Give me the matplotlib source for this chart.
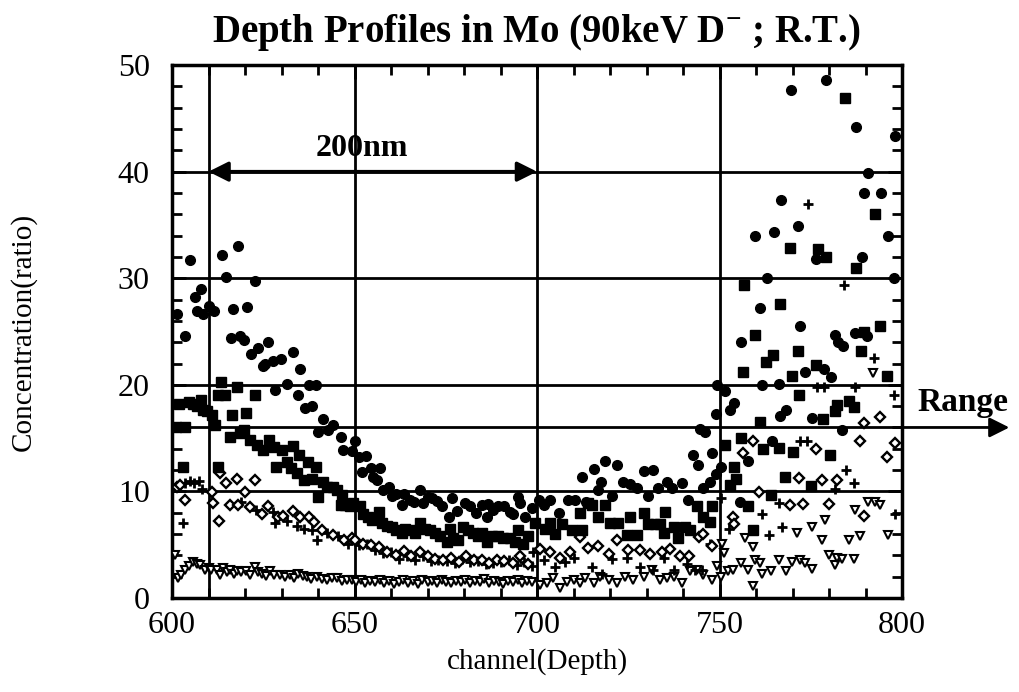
import matplotlib.pyplot as plt
from matplotlib.ticker import MultipleLocator

plt.rcParams['font.family'] = ['Liberation Serif', 'DejaVu Serif']
plt.rcParams['mathtext.fontset'] = 'custom'
plt.rcParams['mathtext.rm'] = 'Liberation Serif'
plt.rcParams['mathtext.bf'] = 'Liberation Serif:bold'

# filled circles (highest profile)
circ_x = [601.3, 603.6, 604.9, 606.3, 606.8, 607.9, 608.6, 610.2, 611.6, 613.6, 614.8, 616.1, 616.6, 618.0,
          618.6, 619.8, 620.5, 621.6, 622.7, 623.5, 624.8, 625.5, 626.4, 627.8, 628.2, 629.9, 631.4, 633.2,
          634.4, 635.1, 636.3, 637.4, 638.3, 639.4, 639.9, 641.5, 642.8, 644.2, 646.3, 646.9, 649.2,
          650.1, 651.3, 652.0, 653.2, 654.4, 655.0, 656.1, 657.0, 657.9, 659.5, 660.2, 661.5, 663.1, 663.6,
          665.2, 666.4, 668.0, 668.7, 670.2, 671.1, 672.7, 673.9, 676.0, 676.6, 678.0, 680.3, 681.6, 683.3,
          684.8, 686.2, 686.5, 688.0, 689.4, 690.9, 692.6, 693.3, 694.9, 695.3, 696.7, 698.5,
          700.6, 701.8, 703.6, 706.0, 708.6, 710.4, 712.3, 713.5, 715.5, 716.8, 717.5, 718.6, 720.5, 721.8,
          723.6, 725.5, 727.5, 729.4, 730.5, 731.8, 733.2, 735.5, 737.1, 739.6, 741.5, 742.8, 744.2, 744.7,
          745.6, 746.0, 747.4, 747.9, 748.9, 749.2,
          751.6, 754.1, 752.9, 748.9, 750.5, 757.9, 755.7, 756.0, 759.6, 761.2, 761.6, 762.9, 764.4, 764.8,
          766.2, 766.5, 766.8, 768.2, 769.6, 771.4, 772.0, 773.3, 775.3, 776.5, 778.5, 779.2, 780.5, 781.7,
          782.5, 783.6, 783.7, 787.0, 787.5, 789.0, 789.5, 790.4, 790.7, 794.2, 796.2, 797.7, 798.1]
circ_y = [26.6, 24.6, 31.7, 28.2, 26.9, 29.0, 26.6, 27.4, 26.9, 32.2, 30.1, 24.4, 27.1, 33.0,
          24.6, 24.2, 27.3, 22.9, 29.7, 23.5, 21.8, 22.0, 24.0, 22.2, 19.5, 22.4, 20.1, 23.1,
          19.0, 21.5, 17.8, 20.0, 18.0, 20.0, 15.6, 16.8, 15.8, 16.2, 15.1, 13.9, 13.8,
          14.7, 13.2, 11.8, 13.3, 12.2, 11.4, 11.1, 12.2, 10.1, 10.4, 9.6, 9.8, 8.7, 9.8,
          9.2, 9.0, 10.1, 8.9, 9.5, 9.4, 9.1, 8.6, 7.6, 9.4, 8.2, 8.9, 8.6, 8.0,
          8.7, 7.6, 8.8, 8.3, 8.6, 8.6, 8.1, 7.9, 9.5, 8.9, 7.6, 8.4,
          9.2, 8.7, 9.2, 8.0, 9.2, 9.2, 11.4, 9.0, 12.1, 10.1, 10.9, 12.9, 9.6, 12.5,
          10.9, 10.7, 10.3, 11.9, 9.6, 12.0, 10.3, 10.9, 10.3, 10.8, 9.2, 13.4, 12.5, 15.9,
          10.3, 15.6, 10.9, 13.6, 17.3, 20.0,
          19.4, 18.3, 17.6, 11.6, 12.3, 12.9, 9.0, 24.0, 34.0, 27.2, 20.0, 30.0, 14.7, 34.3,
          20.1, 17.1, 37.3, 17.6, 47.7, 34.9, 25.5, 21.2, 16.9, 31.8, 21.5, 48.6, 20.7, 24.7,
          24.0, 15.8, 23.6, 24.9, 44.2, 32.0, 38.0, 24.6, 39.9, 38.0, 34.0, 30.0, 43.3]

# filled squares
sq_x = [601.0, 601.9, 603.1, 603.6, 604.7, 605.8, 606.8, 607.9, 608.6, 609.5, 611.0, 611.8, 612.7, 612.7,
        613.3, 614.5, 615.9, 616.4, 617.7, 618.6, 619.7, 620.4, 621.4, 622.7, 623.4, 625.0, 626.5, 627.9,
        628.5, 630.0, 631.4, 632.5, 633.2, 634.2, 634.9, 636.2, 637.3, 638.3, 639.5, 639.9, 641.5, 642.4,
        644.2, 645.1, 646.3, 646.5, 647.4, 648.8,
        649.7, 651.5, 652.4, 653.8, 654.7, 656.8, 657.4, 658.8, 660.2, 661.5, 662.9, 663.8, 665.2, 666.6,
        667.9, 669.3, 670.7, 672.1, 673.4, 675.3, 676.2, 677.1, 678.4, 679.8, 681.2, 682.5, 683.9, 684.8,
        686.2, 687.6, 689.4, 690.7, 692.6, 694.0, 694.9, 696.2, 697.6, 699.5,
        702.2, 703.6, 704.9, 706.8, 709.5, 711.8, 712.3, 714.1, 715.0, 716.8, 718.6, 720.1, 722.3, 724.6,
        725.5, 727.4, 729.2, 730.5, 732.4, 733.8, 734.7, 735.1, 737.4, 738.7, 740.6, 742.0, 743.8, 745.6,
        747.4, 747.9,
        751.6, 752.9, 754.1, 754.5, 756.0, 756.4, 756.6, 757.8, 759.1, 759.6, 761.2, 761.8, 762.8, 764.2,
        764.6, 766.2, 766.7, 768.0, 769.4, 769.9, 770.0, 771.4, 771.8, 775.1, 776.4, 777.0, 778.4, 779.2,
        780.4, 781.7, 782.2, 784.3, 785.4, 786.8, 787.4, 788.8, 789.5, 792.7, 794.1, 795.9]
sq_y = [16.0, 18.2, 12.3, 16.0, 18.4, 18.2, 18.0, 18.6, 17.6, 17.5, 17.2, 16.2, 19.0, 12.3,
        20.3, 19.0, 15.1, 17.2, 19.8, 15.5, 15.8, 17.4, 14.8, 19.0, 14.4, 13.9, 14.8, 14.2,
        12.3, 13.9, 12.8, 12.2, 14.3, 11.7, 13.4, 11.1, 12.8, 11.2, 12.3, 9.5, 10.9, 10.4,
        10.4, 10.1, 8.7, 9.7, 8.7, 8.6,
        8.9, 8.6, 7.9, 7.6, 7.3, 8.1, 7.0, 6.8, 6.7, 6.4, 6.1, 6.5, 6.4, 6.1,
        7.0, 6.5, 6.4, 6.1, 5.8, 5.3, 6.5, 5.6, 5.4, 6.7, 6.4, 6.1, 5.8, 6.1,
        5.3, 5.8, 5.8, 5.6, 5.6, 5.3, 6.4, 5.1, 5.8, 7.0,
        6.5, 7.0, 6.0, 6.9, 6.4, 8.0, 6.4, 8.9, 8.7, 7.6, 8.7, 7.0, 7.0, 5.9,
        7.6, 5.9, 8.0, 6.9, 6.9, 6.9, 6.1, 8.1, 6.7, 5.6, 6.7, 6.4, 8.6, 7.6,
        7.1, 8.6,
        14.4, 10.6, 12.3, 11.2, 15.0, 21.2, 29.4, 8.6, 6.4, 24.7, 16.5, 14.0, 22.1, 9.7,
        22.8, 14.1, 27.6, 11.4, 32.8, 20.8, 13.7, 23.2, 19.0, 10.5, 21.9, 32.7, 16.8, 32.0,
        13.4, 17.5, 18.1, 46.9, 18.5, 17.9, 31.0, 23.2, 25.0, 36.0, 25.5, 20.8]

# open diamonds
dia_x = [601.3, 602.2, 603.6, 611.0, 611.3, 613.0, 613.2, 614.8, 615.9, 617.7, 618.2, 620.0, 621.4, 622.7,
         624.6, 626.4, 629.1, 630.5, 633.1, 635.1, 637.4, 638.9, 641.0, 644.2, 647.0, 649.2,
         650.1, 652.4, 654.4, 656.8, 659.0, 661.5, 663.5, 665.5, 667.9, 670.0, 672.0, 674.2, 676.3, 678.5,
         680.5, 682.6, 684.8, 686.9, 689.0, 691.0, 693.3, 695.3, 697.5,
         700.8, 703.6, 706.3, 709.1, 711.8, 714.1, 716.8, 719.6, 721.8, 725.0, 728.3, 731.0, 734.2, 736.5,
         739.3, 741.6, 744.3, 745.6, 747.9,
         753.8, 754.1, 756.3, 759.3, 760.7, 769.4, 771.7, 773.0, 776.4, 778.1, 780.1, 782.2, 788.5, 789.5,
         789.5, 794.1, 795.9, 798.0]
dia_y = [10.4, 10.6, 9.2, 9.9, 8.9, 7.2, 11.7, 10.8, 8.7, 11.2, 8.7, 9.9, 8.5, 11.1,
         7.9, 8.6, 7.6, 7.7, 8.2, 7.6, 7.6, 7.1, 6.4, 5.9, 5.4, 5.6,
         5.4, 5.1, 5.0, 4.8, 4.3, 4.0, 4.4, 3.9, 4.3, 3.9, 3.7, 3.6, 3.8, 3.4,
         3.9, 3.6, 3.6, 3.3, 3.6, 3.5, 3.3, 3.9, 3.2,
         4.6, 4.3, 3.8, 4.3, 5.7, 4.7, 4.9, 4.1, 5.4, 4.5, 4.5, 4.1, 4.3, 4.6,
         3.9, 3.9, 5.7, 6.0, 4.9,
         7.6, 6.9, 13.6, 14.7, 9.9, 8.7, 11.3, 8.8, 14.0, 11.1, 8.8, 11.1, 14.7, 7.7,
         16.4, 17.0, 13.2, 14.5]

# crosses
plus_x = [602.9, 603.5, 605.0, 606.0, 607.5, 608.3, 618.9, 623.0, 627.8, 628.2, 631.6, 634.2, 636.2, 638.3,
          639.6, 642.4, 645.6, 648.3,
          651.3, 653.5, 655.7, 657.8, 660.0, 662.3, 664.5, 666.6, 668.8, 671.0, 673.0, 675.3, 677.4, 679.5,
          681.7, 683.8, 685.9, 688.0, 690.2, 692.3, 694.5, 696.5, 698.5,
          699.0, 701.8, 705.0, 707.7, 710.0, 715.0, 717.8, 720.6, 724.6, 728.3, 731.9, 734.7, 737.4, 741.1,
          743.4, 745.2, 747.5,
          750.5, 752.5, 761.6, 763.6, 766.2, 767.1, 772.1, 773.9, 774.2, 776.7, 778.5, 781.7, 784.0, 784.7,
          786.8, 787.0, 792.4, 797.7, 798.0]
plus_y = [7.0, 10.8, 11.0, 10.8, 11.0, 10.2, 9.0, 8.3, 8.1, 7.0, 7.2, 6.8, 6.5, 6.4,
          5.4, 6.1, 5.8, 5.1,
          5.0, 5.1, 4.5, 4.2, 4.3, 3.7, 3.9, 3.6, 3.9, 3.5, 3.6, 3.5, 3.3, 3.7,
          3.4, 3.5, 3.2, 3.3, 3.4, 3.6, 3.1, 3.4, 3.0,
          4.3, 3.6, 2.9, 3.4, 3.8, 2.9, 2.3, 3.7, 3.8, 2.9, 2.6, 3.8, 2.6, 3.2,
          2.6, 2.6, 5.1,
          9.4, 6.5, 7.9, 5.9, 8.9, 6.7, 14.7, 14.7, 37.0, 19.8, 19.8, 10.2, 29.4, 12.0,
          10.8, 19.8, 22.5, 19.0, 7.9]

# open triangles (lowest profile)
tri_x = [600.8, 601.7, 602.5, 603.6, 604.7, 605.8, 606.8, 607.7, 609.0, 610.0, 610.8, 612.2, 613.2, 614.0,
         615.0, 615.9, 617.0, 617.7, 619.0, 620.4, 621.5, 622.7, 623.6, 624.6, 625.7, 626.8, 628.0, 629.6,
         631.0, 632.3, 633.5, 634.6, 636.0, 636.9, 638.2, 639.6, 641.0, 642.4, 643.8, 645.1, 646.5, 647.9,
         649.2,
         650.5, 651.8, 653.0, 654.3, 655.6, 657.0, 658.2, 659.5, 660.8, 662.1, 663.4, 664.7, 666.0, 667.3,
         668.6, 670.0, 671.3, 672.6, 673.9, 675.2, 676.5, 677.8, 679.1, 680.4, 681.7, 683.0, 684.3, 685.6,
         686.9, 688.2, 689.5, 690.8, 692.1, 693.4, 694.7, 696.0, 697.3, 698.6,
         700.8, 702.7, 704.5, 706.3, 708.2, 710.0, 711.8, 713.2, 715.5, 717.3, 719.6, 721.9, 724.1, 726.4,
         729.2, 731.5, 733.8, 735.6, 737.4, 739.8, 742.0, 743.8, 745.6, 747.9, 749.3,
         750.5, 750.7, 751.2, 752.3, 753.6, 756.0, 757.1, 757.8, 759.1, 759.3, 759.8, 761.2, 761.6, 764.2,
         766.2, 768.2, 769.9, 771.2, 772.1, 773.3, 775.3, 775.3, 778.1, 779.0, 780.1, 781.7, 782.2, 783.6,
         785.4, 786.8, 787.2, 788.6, 790.8, 792.0, 792.7, 794.1, 796.2]
tri_y = [4.0, 1.85, 2.2, 2.6, 3.0, 3.4, 3.2, 3.1, 2.6, 2.8, 2.6, 2.6, 2.2, 2.8,
         2.4, 2.6, 2.3, 2.5, 2.4, 2.5, 2.2, 2.9, 2.4, 2.3, 2.1, 2.5, 2.2, 2.2,
         2.0, 2.2, 1.9, 2.3, 2.1, 2.0, 1.8, 2.0, 1.8, 1.7, 1.9, 1.85, 1.6, 1.7,
         1.7,
         1.5, 1.7, 1.4, 1.6, 1.5, 1.7, 1.4, 1.6, 1.3, 1.5, 1.7, 1.4, 1.6, 1.3,
         1.7, 1.5, 1.6, 1.4, 1.7, 1.5, 1.4, 1.6, 1.5, 1.7, 1.4, 1.6, 1.5, 1.8,
         1.4, 1.6, 1.5, 1.3, 1.6, 1.5, 1.7, 1.4, 1.6, 1.5,
         1.2, 1.4, 1.9, 0.9, 1.5, 1.7, 1.4, 1.9, 1.4, 2.0, 1.7, 1.4, 2.0, 1.7,
         2.0, 2.6, 1.7, 1.9, 2.0, 1.4, 2.5, 2.6, 2.2, 1.7, 3.0,
         2.0, 5.1, 4.2, 2.5, 2.6, 3.3, 5.6, 2.6, 1.1, 4.8, 3.6, 3.3, 2.3, 2.5,
         3.6, 2.5, 3.4, 6.1, 3.6, 3.3, 6.7, 2.7, 5.4, 7.3, 4.0, 3.1, 3.8, 3.7,
         5.4, 3.7, 8.3, 5.8, 9.0, 21.1, 9.0, 8.7, 5.9]

grid_x = [610, 650, 700, 750]
grid_y = [10, 16, 20, 30, 40]

fig = plt.figure(figsize=(10.19, 6.92), dpi=100)
ax = fig.add_axes([0.1688, 0.1358, 0.7164, 0.7702])

for gx in grid_x:
    ax.axvline(gx, color='black', lw=2, zorder=1)
for gy in grid_y:
    ax.axhline(gy, color='black', lw=2, zorder=1)

ax.plot(tri_x, tri_y, ls='none', marker='v', ms=5.5, mfc='white', mec='black', mew=1.5, zorder=3)
ax.plot(plus_x, plus_y, ls='none', marker='+', ms=6.5, mec='black', mew=2, zorder=3)
ax.plot(dia_x, dia_y, ls='none', marker='D', ms=5, mfc='white', mec='black', mew=1.7, zorder=3)
ax.plot(sq_x, sq_y, ls='none', marker='s', ms=6.5, color='black', zorder=3)
ax.plot(circ_x, circ_y, ls='none', marker='o', ms=7, color='black', zorder=3)

ax.set_xlim(600, 800)
ax.set_ylim(0, 50)
ax.xaxis.set_major_locator(MultipleLocator(50))
ax.xaxis.set_minor_locator(MultipleLocator(10))
ax.yaxis.set_major_locator(MultipleLocator(10))
ax.yaxis.set_minor_locator(MultipleLocator(2))
ax.tick_params(which='both', direction='in', top=True, right=True, width=2, colors='black')
ax.tick_params(which='major', length=10)
ax.tick_params(which='minor', length=7)
ax.tick_params(axis='x', labelsize=23, pad=9)
ax.tick_params(axis='y', labelsize=23, pad=16)
for sp in ax.spines.values():
    sp.set_linewidth(2.5)

ax.set_xlabel('channel(Depth)', fontsize=21, labelpad=6)
ax.set_ylabel('Concentration(ratio)', fontsize=21, labelpad=58)

fig.text(0.526, 0.953, r'Depth Profiles in Mo (90keV D$^{\mathbf{-}}$ ; R.T.)', ha='center',
         va='center', fontsize=28, fontweight='bold')

# 200nm span
ax.annotate('', xy=(610, 40), xytext=(700, 40),
            arrowprops=dict(arrowstyle='<|-|>', lw=2.5, mutation_scale=30, color='black',
                            shrinkA=0, shrinkB=0))
ax.text(652, 42.2, '200nm', ha='center', va='center', fontsize=23, fontweight='bold')

# projected range marker
ax.annotate('', xy=(1.147, 16), xycoords=('axes fraction', 'data'),
            xytext=(1.0, 16), textcoords=('axes fraction', 'data'),
            arrowprops=dict(arrowstyle='-|>', lw=2, mutation_scale=30, color='black',
                            shrinkA=0, shrinkB=0),
            annotation_clip=False)
ax.text(1.083, 18.3, 'Range', transform=ax.get_yaxis_transform(), ha='center', va='center',
        fontsize=24, fontweight='bold', clip_on=False)

fig.savefig('out.png', dpi=100)
